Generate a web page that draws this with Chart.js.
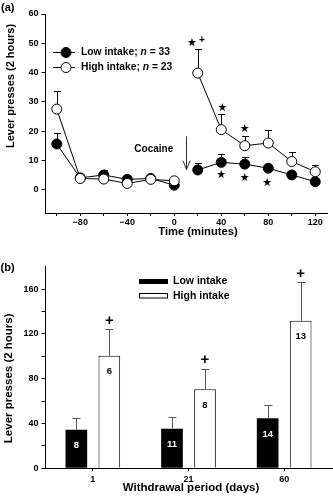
<!DOCTYPE html>
<html><head><meta charset="utf-8">
<script src="https://cdn.jsdelivr.net/npm/chart.js@4"></script>
<style>
html,body{margin:0;padding:0;background:#fff;}
canvas{display:block;}
</style></head>
<body>
<canvas id="ca" width="333" height="250"></canvas>
<canvas id="cb" width="333" height="250"></canvas>
<script>
// ---------- Panel (a) data ----------
const timeMinutes     = [-100, -80, -60, -40, -20, 0, 20, 40, 60, 80, 100, 120];
const lowIntakeMean   = [15.6, 4.0, 5.0, 3.5, 3.8, 1.5, 6.7, 9.3, 8.7, 7.3, 5.0, 2.7];
const lowIntakeSem    = [3.8, 0.6, 1.7, 0.4, 0.4, 0.5, 2.5, 2.7, 2.4, 1.2, 0.6, 0.4];
const highIntakeMean  = [27.5, 3.8, 3.6, 2.1, 3.5, 3.0, 39.8, 20.5, 15.0, 15.9, 9.6, 6.1];
const highIntakeSem   = [6.3, 0.5, 0.5, 0.4, 0.4, 0.6, 8.4, 5.4, 3.2, 4.6, 3.1, 2.3];
const timeTickValues  = [-100, -80, -60, -40, -20, 0, 20, 40, 60, 80, 100, 120];
const timeTickLabels  = ['', '\u221280', '', '\u221240', '', '0', '', '40', '', '80', '', '120'];
const pressTickValuesA = [0, 10, 20, 30, 40, 50, 60];
const pressTickLabelsA = ['0', '10', '20', '30', '40', '50', '60'];
const starTimes       = [15, 41, 60, 40, 60, 79];
const starLevels      = [50.1, 28.0, 20.8, 5.0, 4.0, 2.3];
const crossTimesA     = [23.5];
const crossLevelsA    = [51.0];
const cocaineTime     = 10;
const cocaineArrow    = [18.2, 6.8];

// ---------- Panel (b) data ----------
const withdrawalDays  = ['1', '21', '60'];
const lowBarMean      = [34.5, 35.4, 44.6];
const lowBarSem       = [10.1, 10.4, 11.6];
const highBarMean     = [100.5, 70.5, 131.7];
const highBarSem      = [24.1, 18.4, 34.3];
const lowBarN         = ['8', '11', '14'];
const highBarN        = ['6', '8', '13'];
const crossLevelsB    = [132, 97, 174];
const pressTickValuesB = [0, 20, 40, 60, 80, 100, 120, 140, 160];
const pressTickLabelsB = ['0', '', '40', '', '80', '', '120', '', '160'];

const FONT = '"Liberation Sans", Arial, Helvetica, sans-serif';
Chart.defaults.font.family = FONT;
Chart.defaults.color = '#000';

function rotText(ctx, text, cx, cy, font) {
  ctx.save();
  ctx.translate(cx, cy);
  ctx.rotate(-Math.PI / 2);
  ctx.font = font; ctx.textAlign = 'center'; ctx.textBaseline = 'middle';
  ctx.fillText(text, 0, 0);
  ctx.restore();
}
function ctext(ctx, text, x, y, font, color, align) {
  ctx.font = font; ctx.fillStyle = color || '#000';
  ctx.textAlign = align || 'center'; ctx.textBaseline = 'middle';
  ctx.fillText(text, x, y);
}

// ---------- Chart (a) ----------
const lowPts = timeMinutes.map((t, i) => ({x: t, y: lowIntakeMean[i]}));
const highPts = timeMinutes.map((t, i) => ({x: t, y: highIntakeMean[i]}));
lowPts.splice(6, 0, {x: cocaineTime, y: null});
highPts.splice(6, 0, {x: cocaineTime, y: null});

const decorA = {
  id: 'decorA',
  beforeDatasetsDraw(chart) {
    const {ctx, scales: {x, y}} = chart;
    ctx.save();
    ctx.strokeStyle = '#000'; ctx.lineWidth = 1;
    [[lowIntakeMean, lowIntakeSem], [highIntakeMean, highIntakeSem]].forEach(([m, e]) => {
      timeMinutes.forEach((t, i) => {
        const px = Math.round(x.getPixelForValue(t)) + 0.5;
        const y0 = y.getPixelForValue(m[i]);
        const y1 = Math.round(y.getPixelForValue(m[i] + e[i])) + 0.5;
        ctx.beginPath();
        ctx.moveTo(px, y0); ctx.lineTo(px, y1);
        ctx.moveTo(px - 3.5, y1); ctx.lineTo(px + 3.5, y1);
        ctx.stroke();
      });
    });
    ctx.restore();
  },
  afterDatasetsDraw(chart) {
    const {ctx, scales: {x, y}} = chart;
    ctx.save();
    starTimes.forEach((t, i) => {
      ctext(ctx, '\u2605', x.getPixelForValue(t), y.getPixelForValue(starLevels[i]), 'bold 11px "DejaVu Sans", sans-serif');
    });
    crossTimesA.forEach((t, i) => {
      ctext(ctx, '+', x.getPixelForValue(t), y.getPixelForValue(crossLevelsA[i]), 'bold 10px ' + FONT);
    });
    const ax = Math.round(x.getPixelForValue(cocaineTime)) + 0.5;
    const ay0 = y.getPixelForValue(cocaineArrow[0]);
    const ay1 = y.getPixelForValue(cocaineArrow[1]);
    ctx.strokeStyle = '#333'; ctx.lineWidth = 1;
    ctx.beginPath();
    ctx.moveTo(ax, ay0); ctx.lineTo(ax, ay1);
    ctx.moveTo(ax - 3.5, ay1 - 9); ctx.lineTo(ax, ay1); ctx.lineTo(ax + 3.5, ay1 - 9);
    ctx.stroke();
    ctext(ctx, 'Cocaine', x.getPixelForValue(-17.4), y.getPixelForValue(13.7), 'bold 10px ' + FONT);
    const rows = [
      {y: 52, fill: '#000', pre: 'Low intake; ', post: ' = 33'},
      {y: 67, fill: '#fff', pre: 'High intake; ', post: ' = 23'}
    ];
    rows.forEach(r => {
      ctx.strokeStyle = '#000'; ctx.lineWidth = 1;
      ctx.beginPath(); ctx.moveTo(53, r.y + 0.5); ctx.lineTo(75, r.y + 0.5); ctx.stroke();
      ctx.beginPath(); ctx.arc(66, r.y + 0.5, 5, 0, Math.PI * 2);
      ctx.fillStyle = r.fill; ctx.fill(); ctx.stroke();
      let tx = 81;
      ctx.textAlign = 'left'; ctx.textBaseline = 'middle'; ctx.fillStyle = '#000';
      ctx.font = 'bold 10.3px ' + FONT; ctx.fillText(r.pre, tx, r.y); tx += ctx.measureText(r.pre).width;
      ctx.font = 'italic bold 10.3px ' + FONT; ctx.fillText('n', tx, r.y); tx += ctx.measureText('n').width;
      ctx.font = 'bold 10.3px ' + FONT; ctx.fillText(r.post, tx, r.y);
    });
    rotText(ctx, 'Lever presses (2 hours)', 10.5, 86, 'bold 11px ' + FONT);
    ctext(ctx, 'Time (minutes)', 198, 231.5, 'bold 11.2px ' + FONT);
    ctext(ctx, '(a)', 1, 7.5, 'bold 11px ' + FONT, '#000', 'left');
    ctx.restore();
  }
};

new Chart(document.getElementById('ca'), {
  type: 'line',
  data: {
    datasets: [
      {label: 'High intake; n = 23', data: highPts, order: 0, borderColor: '#000', borderWidth: 1,
       pointRadius: 5, pointBackgroundColor: '#fff', pointBorderColor: '#000', pointBorderWidth: 1, spanGaps: false},
      {label: 'Low intake; n = 33', data: lowPts, order: 1, borderColor: '#000', borderWidth: 1,
       pointRadius: 5, pointBackgroundColor: '#000', pointBorderColor: '#000', pointBorderWidth: 1, spanGaps: false}
    ]
  },
  options: {
    responsive: false, animation: false, devicePixelRatio: 1,
    layout: {padding: {top: 14, right: 3, left: 0, bottom: 0}},
    plugins: {legend: {display: false}, tooltip: {enabled: false}},
    scales: {
      x: {
        type: 'linear', min: -110, max: 130,
        afterBuildTicks: s => { s.ticks = timeTickValues.map(v => ({value: v})); },
        afterFit: s => { s.height = 37; },
        ticks: {callback: (v, i) => timeTickLabels[i], font: {size: 9, weight: 'bold'}, color: '#000',
                padding: 1, maxRotation: 0, autoSkip: false},
        grid: {drawOnChartArea: false, tickLength: 3, color: '#000'},
        border: {color: '#000', width: 1}
      },
      y: {
        type: 'linear', min: -8, max: 60,
        afterBuildTicks: s => { s.ticks = pressTickValuesA.map(v => ({value: v})); },
        afterFit: s => { s.width = 45; },
        ticks: {callback: (v, i) => pressTickLabelsA[i], font: {size: 9, weight: 'bold'}, color: '#000', padding: 3},
        grid: {drawOnChartArea: false, tickLength: 3.5, color: '#000'},
        border: {color: '#000', width: 1}
      }
    }
  },
  plugins: [decorA]
});

// ---------- Chart (b) ----------
const decorB = {
  id: 'decorB',
  afterDatasetsDraw(chart) {
    const {ctx, scales: {y}} = chart;
    ctx.save();
    const sets = [[lowBarMean, lowBarSem, lowBarN, '#fff'], [highBarMean, highBarSem, highBarN, '#000']];
    sets.forEach(([m, e, n, tc], di) => {
      const meta = chart.getDatasetMeta(di);
      meta.data.forEach((bar, i) => {
        const px = Math.round(bar.x) + 0.5;
        const y0 = y.getPixelForValue(m[i]);
        const y1 = Math.round(y.getPixelForValue(m[i] + e[i])) + 0.5;
        ctx.strokeStyle = '#555'; ctx.lineWidth = 1;
        ctx.beginPath();
        ctx.moveTo(px, y0); ctx.lineTo(px, y1);
        ctx.moveTo(px - 4, y1); ctx.lineTo(px + 4, y1);
        ctx.stroke();
        ctext(ctx, n[i], bar.x, y0 + 16, 'bold 9.5px ' + FONT, tc);
      });
    });
    const hm = chart.getDatasetMeta(1);
    hm.data.forEach((bar, i) => {
      ctext(ctx, '+', bar.x, y.getPixelForValue(crossLevelsB[i]), 'bold 15px ' + FONT);
    });
    ctx.fillStyle = '#000'; ctx.fillRect(139, 29, 29, 5);
    ctx.strokeStyle = '#000'; ctx.lineWidth = 1;
    ctx.fillStyle = '#fff'; ctx.fillRect(139, 43.5, 29, 5); ctx.strokeRect(139.5, 43.5, 28, 4.5);
    ctext(ctx, 'Low intake', 173, 31.5, 'bold 10.5px ' + FONT, '#000', 'left');
    ctext(ctx, 'High intake', 173, 46, 'bold 10.5px ' + FONT, '#000', 'left');
    rotText(ctx, 'Lever presses (2 hours)', 8.5, 128.3, 'bold 11.5px ' + FONT);
    ctext(ctx, 'Withdrawal period (days)', 191, 238, 'bold 11.5px ' + FONT);
    ctext(ctx, '(b)', 0.5, 17.5, 'bold 11px ' + FONT, '#000', 'left');
    ctx.restore();
  }
};

new Chart(document.getElementById('cb'), {
  type: 'bar',
  data: {
    labels: withdrawalDays,
    datasets: [
      {label: 'Low intake', data: lowBarMean, backgroundColor: '#000', borderColor: '#000', borderWidth: 0,
       categoryPercentage: 0.69, barPercentage: 0.657},
      {label: 'High intake', data: highBarMean, backgroundColor: '#fff', borderColor: '#000', borderWidth: 1,
       categoryPercentage: 0.69, barPercentage: 0.657}
    ]
  },
  options: {
    responsive: false, animation: false, devicePixelRatio: 1,
    layout: {padding: {top: 16.7, right: 1, left: 0, bottom: 0}},
    plugins: {legend: {display: false}, tooltip: {enabled: false}},
    scales: {
      x: {
        afterFit: s => { s.height = 31.7; },
        ticks: {font: {size: 9, weight: 'bold'}, color: '#000', padding: 2.5, maxRotation: 0},
        grid: {offset: false, drawOnChartArea: false, tickLength: 3, color: '#000'},
        border: {color: '#000', width: 1}
      },
      y: {
        min: 0, max: 180,
        afterBuildTicks: s => { s.ticks = pressTickValuesB.map(v => ({value: v})); },
        afterFit: s => { s.width = 45; },
        ticks: {callback: (v, i) => pressTickLabelsB[i], font: {size: 9, weight: 'bold'}, color: '#000', padding: 3},
        grid: {drawOnChartArea: false, tickLength: 3.5, color: '#000'},
        border: {color: '#000', width: 1}
      }
    }
  },
  plugins: [decorB]
});
</script>
</body></html>
